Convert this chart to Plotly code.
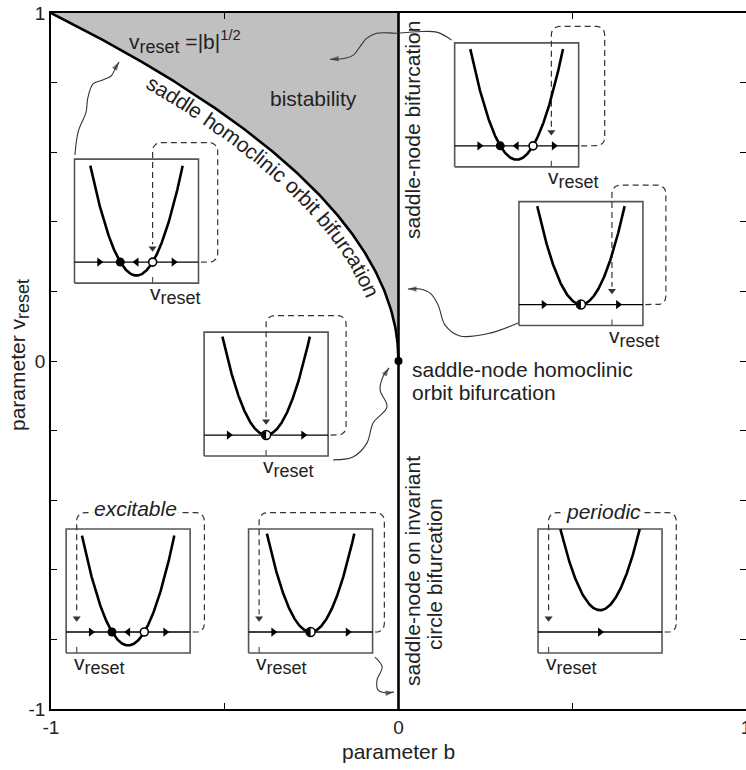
import numpy as np
import plotly.graph_objects as go

FONT = "Liberation Sans, Arial, Helvetica, sans-serif"
INK = "#222222"
DASH_INK = "#333333"

# ---------------- page geometry ----------------
W, H = 746, 770
ML, MR, MT, MB = 51, 0, 13, 61
PW, PH = W - ML - MR, H - MT - MB

# ---------------- parameter plane (b, v_reset) ----------------
b_ticks = [-1, 0, 1]
b_ticklabels = ["-1", "0", "1"]
b_minor_ticks = [-0.5, 0.5]
v_ticks = [-1, 0, 1]
v_ticklabels = ["-1", "0", "1"]
v_minor_ticks = [-0.8, -0.6, -0.4, -0.2, 0.2, 0.4, 0.6, 0.8]

# saddle homoclinic orbit bifurcation curve  v_reset = |b|^(1/2),  -1 <= b <= 0
shc_b = np.linspace(-1, 0, 401)
shc_v = np.sqrt(np.abs(shc_b))
# saddle-node (b = 0) line and the saddle-node homoclinic point
sn_b = [0, 0]
sn_v = [-1, 1]
snho_b = [0]
snho_v = [0]

# ---------------- phase-line insets  dv/dt = v^2 + b ----------------
inset_b = [-0.068, -0.070, 0.0, 0.0, -0.068, 0.0, 0.11]
inset_vreset = [0.26, 0.56, 0.50, 0.0, -0.83, -0.83, -0.83]
inset_center_b = [-0.754, 0.340, 0.525, -0.381, -0.778, -0.253, 0.580]
inset_center_v = [0.402, 0.736, 0.280, -0.095, -0.661, -0.661, -0.661]
inset_loop_right = [1.31, 1.42, 1.37, 1.29, 1.23, 1.19, 1.23]
inset_arm_top = [0.49, 0.49, 0.50, 0.50, 0.49, 0.50, 0.52]

# curved connectors (b, v) ending in an arrowhead
connectors = [
    ([-0.931, -0.922, -0.899, -0.894, -0.879, -0.853, -0.827, -0.813, -0.804],
     [0.592, 0.658, 0.716, 0.756, 0.796, 0.807, 0.819, 0.845, 0.859]),
    ([0.153, 0.110, 0.052, -0.005, -0.063, -0.092, -0.111, -0.130, -0.154, -0.197],
     [0.922, 0.945, 0.946, 0.942, 0.942, 0.927, 0.903, 0.879, 0.870, 0.867]),
    ([0.344, 0.263, 0.177, 0.134, 0.114, 0.091, 0.062, 0.027],
     [0.109, 0.080, 0.072, 0.103, 0.161, 0.195, 0.207, 0.207]),
    ([-0.188, -0.131, -0.091, -0.073, -0.033, -0.053, -0.045, -0.027],
     [-0.284, -0.276, -0.236, -0.178, -0.132, -0.083, -0.046, -0.020]),
    ([-0.068, -0.047, -0.062, -0.059, -0.033, -0.013],
     [-0.851, -0.879, -0.917, -0.945, -0.954, -0.951]),
]

# inset frame (inset data units) and its pixel scale
IX = [-1.1, 1.6]
IY = [-0.2, 0.64]
BOX_V = [-1.0, 1.0]
BOX_Y = [-0.106, 0.52]
SX, SY = 62.0, 198.0
LOOP_TOP = 0.603
TIP_Y = 0.07
TXT = 21


def to_px(b, v):
    return ML + (np.asarray(b) + 1) / 2 * PW, MT + (1 - np.asarray(v)) / 2 * PH


def from_px(x, y):
    return (np.asarray(x) - ML) / PW * 2 - 1, 1 - (np.asarray(y) - MT) / PH * 2


fig = go.Figure()

# bistability region above the homoclinic curve
fig.add_trace(go.Scatter(
    x=np.concatenate([shc_b, [0, -1]]), y=np.concatenate([shc_v, [1, 1]]),
    fill="toself", fillcolor="#c0c0c0", mode="lines", line=dict(width=0),
    hoverinfo="skip"))
fig.add_trace(go.Scatter(x=shc_b, y=shc_v, mode="lines",
                         line=dict(color="black", width=2.6)))
fig.add_trace(go.Scatter(x=sn_b, y=sn_v, mode="lines",
                         line=dict(color="black", width=2.6)))
fig.add_trace(go.Scatter(x=snho_b, y=snho_v, mode="markers",
                         marker=dict(color="black", size=8)))

for cb, cv in connectors:
    fig.add_trace(go.Scatter(x=cb, y=cv, mode="lines",
                             line=dict(color=DASH_INK, width=1.1, shape="spline", smoothing=1.0)))
    fig.add_trace(go.Scatter(x=cb[-2:], y=cv[-2:], mode="markers",
                             marker=dict(symbol="arrow", size=[0, 9], angleref="previous",
                                         color=DASH_INK, line=dict(width=0))))

annotations = []
layout_axes = {}


def rounded_loop(vr, xr, yt, rx=8 / SX, ry=8 / SY):
    """Reset path: right along the phase line, up, back across the top, down to v_reset."""
    xs, ys = [BOX_V[1] + 0.04, xr - rx], [0.0, 0.0]
    th = np.linspace(-np.pi / 2, 0, 8)
    xs += list(xr - rx + rx * np.cos(th)); ys += list(ry + ry * np.sin(th))
    th = np.linspace(0, np.pi / 2, 8)
    xs += list(xr - rx + rx * np.cos(th)); ys += list(yt - ry + ry * np.sin(th))
    th = np.linspace(np.pi / 2, np.pi, 8)
    xs += list(vr + rx + rx * np.cos(th)); ys += list(yt - ry + ry * np.sin(th))
    xs += [vr]; ys += [TIP_Y + 0.02]
    return xs, ys


VRESET_TXT = "v<sub><span style='font-size:18px'>reset</span></sub>"

for k in range(len(inset_b)):
    n = k + 2
    xa, ya = f"x{n}", f"y{n}"
    b = inset_b[k]
    vr = inset_vreset[k]
    fx = (inset_center_b[k] + 1) / 2
    fy = (inset_center_v[k] + 1) / 2
    yc = (BOX_Y[0] + BOX_Y[1]) / 2
    layout_axes[f"xaxis{n}"] = dict(domain=[fx + IX[0] * SX / PW, fx + IX[1] * SX / PW],
                                    range=IX, visible=False, anchor=ya, fixedrange=True)
    layout_axes[f"yaxis{n}"] = dict(domain=[fy + (IY[0] - yc) * SY / PH, fy + (IY[1] - yc) * SY / PH],
                                    range=IY, visible=False, anchor=xa, fixedrange=True)

    def add(tr):
        tr.update(xaxis=xa, yaxis=ya, hoverinfo="skip")
        fig.add_trace(tr)

    # frame
    add(go.Scatter(x=[BOX_V[0], BOX_V[1], BOX_V[1], BOX_V[0], BOX_V[0]],
                   y=[BOX_Y[0], BOX_Y[0], BOX_Y[1], BOX_Y[1], BOX_Y[0]],
                   fill="toself", fillcolor="white", mode="lines",
                   line=dict(color="#555555", width=1.6)))
    # reset loop
    lx, ly = rounded_loop(vr, inset_loop_right[k], LOOP_TOP)
    add(go.Scatter(x=lx, y=ly, mode="lines",
                   line=dict(color=DASH_INK, width=1.2, dash="6px,4px")))
    add(go.Scatter(x=[vr], y=[TIP_Y], mode="markers",
                   marker=dict(symbol="triangle-down", size=7, color=DASH_INK)))
    # v_reset tick on the frame
    add(go.Scatter(x=[vr, vr], y=[BOX_Y[0], BOX_Y[0] + 6 / SY], mode="lines",
                   line=dict(color="#555555", width=1.2)))
    # phase line
    add(go.Scatter(x=BOX_V, y=[0, 0], mode="lines", line=dict(color="black", width=1.3)))
    # nullcline parabola
    vv = np.linspace(-1, 1, 801)
    yy = vv ** 2 + b
    keep = yy <= inset_arm_top[k]
    add(go.Scatter(x=vv[keep], y=yy[keep], mode="lines", line=dict(color="black", width=2.6)))

    # flow arrows and equilibria
    if b < 0:
        r = np.sqrt(-b)
        ax_v, ax_s = [-0.6, 0.0, 0.6], ["triangle-right", "triangle-left", "triangle-right"]
    elif b == 0:
        ax_v, ax_s = [-0.6, 0.6], ["triangle-right", "triangle-right"]
    else:
        ax_v, ax_s = [0.0], ["triangle-right"]
    add(go.Scatter(x=ax_v, y=[0] * len(ax_v), mode="markers",
                   marker=dict(symbol=ax_s, size=8, color="black")))
    if b < 0:
        add(go.Scatter(x=[-r], y=[0], mode="markers",
                       marker=dict(symbol="circle", size=9, color="black")))
        add(go.Scatter(x=[r], y=[0], mode="markers",
                       marker=dict(symbol="circle", size=8, color="white",
                                   line=dict(color="black", width=1.6))))
    elif b == 0:
        add(go.Scatter(x=[0], y=[0], mode="markers",
                       marker=dict(symbol="circle", size=9, color="white",
                                   line=dict(color="black", width=1.5))))
        th = np.linspace(np.pi / 2, 3 * np.pi / 2, 20)
        rr = 4.3
        add(go.Scatter(x=list(rr / SX * np.cos(th)), y=list(rr / SY * np.sin(th)),
                       fill="toself", fillcolor="black", mode="lines", line=dict(width=0)))

    annotations.append(dict(
        x=vr, y=BOX_Y[0], xref=xa, yref=ya, xanchor="left", yanchor="top",
        xshift=-5, yshift=4, showarrow=False, text=VRESET_TXT,
        font=dict(family=FONT, size=TXT, color=INK)))


def text_note(bx, vy, txt, angle=0, xanchor="center", italic=False, bg=None):
    d = dict(x=float(bx), y=float(vy), xref="x", yref="y", text=txt, showarrow=False,
             textangle=angle, xanchor=xanchor, yanchor="middle",
             font=dict(family=FONT, size=TXT, color=INK,
                       style="italic" if italic else "normal"))
    if bg:
        d.update(bgcolor=bg, borderpad=1)
    annotations.append(d)


text_note(*from_px(127, 42), VRESET_TXT + " =|b|<sup>1/2</sup>", xanchor="left")
text_note(*from_px(313, 98), "bistability")
text_note(*from_px(412, 130), "saddle-node bifurcation", angle=-90)
text_note(*from_px(410, 369), "saddle-node homoclinic", xanchor="left")
text_note(*from_px(410, 392), "orbit bifurcation", xanchor="left")
text_note(*from_px(412, 571), "saddle-node on invariant", angle=-90)
text_note(*from_px(434, 574), "circle bifurcation", angle=-90)
text_note(*from_px(135.5, 508), "excitable", italic=True, bg="white")
text_note(*from_px(603.5, 511), "periodic", italic=True, bg="white")

# label set along the homoclinic curve, one glyph at a time
curve_label = "saddle homoclinic orbit bifurcation"
glyph_em = {"s": .5, "a": .556, "d": .556, "l": .222, "e": .556, " ": .278, "h": .556,
            "o": .556, "m": .833, "c": .5, "i": .222, "n": .556, "r": .333, "b": .556,
            "t": .278, "f": .278, "u": .556}
CURVE_FONT = TXT
OFFSET = 12.5
bb = np.linspace(-0.999, -0.002, 6000)
px, py = to_px(bb, np.sqrt(-bb))
gx, gy = np.gradient(px), np.gradient(py)
gl = np.hypot(gx, gy)
tx, ty = gx / gl, gy / gl
ox, oy = px - OFFSET * ty, py + OFFSET * tx
arc = np.concatenate([[0], np.cumsum(np.hypot(np.diff(ox), np.diff(oy)))])
ang = np.degrees(np.arctan2(ty, tx))
s_pos = np.interp(-0.70, bb, arc)
for ch in curve_label:
    w = glyph_em[ch] * CURVE_FONT
    s_mid = s_pos + w / 2
    s_pos += w
    if ch == " ":
        continue
    cx = np.interp(s_mid, arc, ox)
    cy = np.interp(s_mid, arc, oy)
    ca = np.interp(s_mid, arc, ang)
    db, dv = from_px(cx, cy)
    annotations.append(dict(x=float(db), y=float(dv), xref="x", yref="y", text=ch,
                            showarrow=False, textangle=float(ca), xanchor="center",
                            yanchor="middle",
                            font=dict(family=FONT, size=CURVE_FONT, color=INK)))

# axis titles
annotations.append(dict(x=0.5, y=(MT + PH - 752) / PH, xref="paper", yref="paper",
                        text="parameter b", showarrow=False, xanchor="center", yanchor="middle",
                        font=dict(family=FONT, size=TXT, color=INK)))
annotations.append(dict(x=(19 - ML) / PW, y=(MT + PH - 355) / PH, xref="paper", yref="paper",
                        text="parameter " + VRESET_TXT,
                        showarrow=False, textangle=-90, xanchor="center", yanchor="middle",
                        font=dict(family=FONT, size=TXT, color=INK)))

tick_style = dict(ticks="inside", ticklen=6, tickwidth=1.2, tickcolor="black")
axis_common = dict(showline=True, linecolor="black", linewidth=1.5, mirror="ticks",
                   showgrid=False, zeroline=False, automargin=False, fixedrange=True,
                   ticklabeloverflow="allow",
                   tickfont=dict(family=FONT, size=19, color=INK), **tick_style)

fig.update_layout(
    width=W, height=H, margin=dict(l=ML, r=MR, t=MT, b=MB),
    paper_bgcolor="white", plot_bgcolor="rgba(0,0,0,0)",
    showlegend=False, hovermode=False,
    xaxis=dict(range=[-1, 1], domain=[0, 1], tickvals=b_ticks, ticktext=b_ticklabels,
               minor=dict(tickvals=b_minor_ticks, showgrid=False, **tick_style),
               **axis_common),
    yaxis=dict(range=[-1, 1], domain=[0, 1], tickvals=v_ticks, ticktext=v_ticklabels,
               minor=dict(tickvals=v_minor_ticks, showgrid=False, **tick_style),
               **axis_common),
    annotations=annotations,
    **layout_axes,
)

fig.write_html("out.html")
